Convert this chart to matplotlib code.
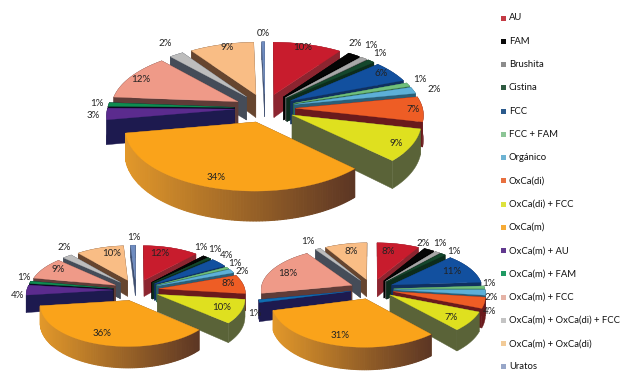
import numpy as np
import matplotlib
matplotlib.use('Agg')
import matplotlib.pyplot as plt
from matplotlib.patches import Polygon, Rectangle

plt.rcParams['font.family'] = ['Lato', 'DejaVu Sans']

categories = ['AU', 'FAM', 'Brushita', 'Cistina', 'FCC', 'FCC + FAM', 'Orgánico', 'OxCa(di)',
              'OxCa(di) + FCC', 'OxCa(m)', 'OxCa(m) + AU', 'OxCa(m) + FAM', 'OxCa(m) + FCC',
              'OxCa(m) + OxCa(di) + FCC', 'OxCa(m) + OxCa(di)', 'Uratos']

values_top = [9.6, 1.7, 1, 1, 5.6, 1, 1.7, 6.6, 8.6, 34.4, 3, 1, 12, 2, 9, 0.4]
values_left = [11.6, 1, 0, 0.7, 3.6, 0.8, 1.6, 7.6, 9.6, 36.4, 4, 1, 9, 2, 10, 1]
values_right = [8, 2, 1, 1, 11, 1, 2, 4, 7, 31, 1, 0, 18, 1, 8, 0]

top_colors = ['#c81c2d', '#050505', '#a8a8a8', '#14472c', '#12509f', '#70bf7c', '#5db0d8', '#ee5d25',
              '#dfe01f', '#faa31a', '#5b2b8e', '#0f8c50', '#ef9a88', '#bdbdbd', '#f9bd85', '#6f8cc0']
side_colors = ['#8c2530', '#000000', '#555555', '#0c2c1c', '#10305f', '#2f6a42', '#2a5f78', '#6a1a1c',
               '#5a6338', '#8a5a25', '#1d1a4f', '#0a0a20', '#5f3c38', '#454c58', '#66452f', '#3f4f70']
legend_colors = ['#c43a44', '#0a0a0a', '#8c8c8c', '#2e5a41', '#2b5a8c', '#8cc596', '#6db3d3', '#e8703f',
                 '#dde23c', '#f6ab36', '#61398f', '#1f9a63', '#e5b3a6', '#c4c4c4', '#f2cb98', '#97a6c8']

# label anchors, one per non zero slice, in slice order
labels_top = [(303, 48), (355, 44), (371, 45), (380, 54), (381, 73), (420, 79), (434, 90), (413, 110),
              (396, 144), (216, 178), (93, 116), (97, 103), (141, 80), (165, 44), (227, 48), (263, 33)]
labels_left = [(160, 253), (201, 247), (215, 249), (227, 255), (235, 263), (242, 272), (228, 284),
               (222, 308), (102, 333), (18, 296), (24, 277), (58, 270), (64, 248), (112, 253), (134, 238)]
labels_right = [(388, 251), (423, 243), (440, 244), (454, 252), (452, 272), (489, 284), (491, 297),
                (490, 312), (451, 318), (340, 335), (255, 314), (288, 273), (308, 241), (351, 251)]


def project(pie, theta, r, phi):
    x = r * np.sin(theta) + pie['e'] * np.sin(phi)
    y = -(r * np.cos(theta) + pie['e'] * np.cos(phi))
    s = 1 / (1 - pie['p'] * y)
    px = pie['cx'] + pie['R'] * x * s
    py = pie['cy'] + pie['R'] * pie['t'] * y * s
    depth = pie['d'] * (1 + pie['q'] * y)
    return px, py, depth


def draw_pie(ax, values, pie, label_xy, colors=None):
    colors = colors or top_colors
    values = np.array(values, dtype=float)
    fracs = values / values.sum()
    edges = np.concatenate([[0], np.cumsum(fracs)]) * 2 * np.pi
    order = sorted([i for i in range(len(values)) if values[i] > 0],
                   key=lambda i: -np.cos((edges[i] + edges[i + 1]) / 2))
    for i in order:
        phi = (edges[i] + edges[i + 1]) / 2
        n = max(4, int(fracs[i] * 300))
        th = np.linspace(edges[i], edges[i + 1], n)
        ax_, ay_, ad_ = project(pie, 0, 0, phi)
        xs, ys, ds = project(pie, th, 1, phi)
        z = 2 - np.cos(phi)

        # radial cut faces
        for k in (0, -1):
            quad = [(ax_, ay_), (xs[k], ys[k]), (xs[k], ys[k] + ds[k]), (ax_, ay_ + ad_)]
            ax.add_patch(Polygon(quad, closed=True, fc=side_colors[i], ec=side_colors[i], lw=0.3, zorder=z))
        # outer rim, the big orange slice fades from left to right
        if i == 9:
            a = np.array([226, 152, 42]) / 255
            b = np.array([92, 54, 36]) / 255
            for k in range(n - 1):
                c = a + (b - a) * (xs[k] - xs.min()) / (xs.max() - xs.min())
                quad = [(xs[k], ys[k]), (xs[k + 1], ys[k + 1]), (xs[k + 1], ys[k + 1] + ds[k + 1]), (xs[k], ys[k] + ds[k])]
                ax.add_patch(Polygon(quad, closed=True, fc=c, ec=c, lw=0.8, zorder=z))
        else:
            rim = list(zip(xs, ys)) + list(zip(xs[::-1], (ys + ds)[::-1]))
            ax.add_patch(Polygon(rim, closed=True, fc=side_colors[i], ec=side_colors[i], lw=0.3, zorder=z))
        # top surface
        pts = [(ax_, ay_)] + list(zip(xs, ys))
        ax.add_patch(Polygon(pts, closed=True, fc=colors[i], ec=colors[i], lw=0.2, zorder=z + 0.001))

    shown = [v for v in values if v > 0]
    for v, (lx, ly) in zip(shown, label_xy):
        ax.text(lx, ly, f'{round(v)}%', ha='center', va='center', fontsize=7, color='#222222', zorder=10)


fig = plt.figure(figsize=(6.44, 3.86), dpi=100)
ax = fig.add_axes([0, 0, 1, 1])
ax.set_xlim(0, 644)
ax.set_ylim(386, 0)
ax.axis('off')

pie_top = dict(cx=265, cy=108, R=127, t=0.47, p=0.095, e=0.24, d=24, q=0.2)
pie_left = dict(cx=136, cy=290, R=86, t=0.46, p=0.095, e=0.27, d=17, q=0.2)
pie_right = dict(cx=372, cy=289, R=91, t=0.46, p=0.095, e=0.24, d=18, q=0.2)

draw_pie(ax, values_top, pie_top, labels_top)
draw_pie(ax, values_left, pie_left, labels_left)
right_colors = list(top_colors)
right_colors[10] = '#0f6db0'
draw_pie(ax, values_right, pie_right, labels_right, right_colors)

for i, name in enumerate(categories):
    y = 18 + i * 23.26
    ax.add_patch(Rectangle((501.5, y - 2.5), 5, 5, fc=legend_colors[i], ec='none'))
    ax.text(509, y, name, ha='left', va='center', fontsize=6.8, color='#111111')

fig.savefig('out.png', dpi=100)
